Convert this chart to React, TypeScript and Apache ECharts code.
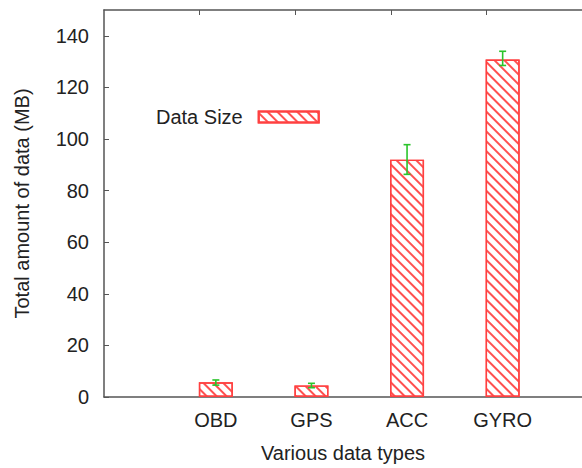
import React, { useEffect, useRef } from "react";
import * as echarts from "echarts";

const categories = ["OBD", "GPS", "ACC", "GYRO"];
const dataSize = [5.7, 4.5, 92.0, 130.8];
const errLow = [4.6, 3.6, 86.3, 128.5];
const errHigh = [6.6, 5.3, 97.8, 134.0];
const yTicks = [0, 20, 40, 60, 80, 100, 120, 140];

const barOffset = 0.17;
const FONT = "'Liberation Sans', Arial, sans-serif";
const RED = "#ff4040";
const GREEN = "#2bc42b";
const AXIS = "#555";

export default function App() {
  const ref = useRef<HTMLDivElement>(null);
  useEffect(() => {
    document.body.style.margin = "0";
    const chart = echarts.init(ref.current!, null, { renderer: "svg" });
    const tickPos = categories.map((_, i) => i);
    const labelPos = categories.map((_, i) => i + barOffset);
    const axisCommon = {
      type: "value" as const,
      min: -1,
      max: 4,
      interval: 1,
      splitLine: { show: false },
    };
    chart.setOption({
      animation: false,
      backgroundColor: "#fff",
      textStyle: { fontFamily: FONT },
      grid: { left: 104, top: 10, width: 485, height: 390, containLabel: false },
      legend: {
        show: true,
        data: [{ name: "Data Size", icon: "rect" }],
        left: 151,
        top: 102,
        align: "right",
        itemWidth: 60,
        itemHeight: 11,
        textStyle: { fontSize: 20, color: "#222", fontFamily: FONT, padding: [0, 11, 0, 0] },
      },
      xAxis: [
        {
          ...axisCommon,
          position: "bottom",
          name: "Various data types",
          nameLocation: "middle",
          nameGap: 46,
          nameTextStyle: { fontSize: 20, color: "#222", fontFamily: FONT },
          axisLine: { show: true, onZero: false, lineStyle: { color: AXIS, width: 1.5 } },
          axisTick: { show: true, inside: true, length: 5, customValues: tickPos, lineStyle: { color: AXIS } },
          axisLabel: {
            show: true,
            customValues: labelPos,
            margin: 13,
            fontSize: 20,
            color: "#222",
            fontFamily: FONT,
            formatter: (v: number) => categories[Math.round(v - barOffset)] ?? "",
          },
        },
        {
          ...axisCommon,
          position: "top",
          axisLine: { show: true, onZero: false, lineStyle: { color: AXIS, width: 1.5 } },
          axisTick: { show: true, inside: true, length: 5, customValues: tickPos, lineStyle: { color: AXIS } },
          axisLabel: { show: false },
        },
      ],
      yAxis: {
        type: "value",
        min: 0,
        max: 150,
        position: "left",
        name: "Total amount of data (MB)",
        nameLocation: "middle",
        nameGap: 72,
        nameRotate: 90,
        nameTextStyle: { fontSize: 20, color: "#222", fontFamily: FONT },
        splitLine: { show: false },
        axisLine: { show: true, onZero: false, lineStyle: { color: AXIS, width: 1.5 } },
        axisTick: { show: true, inside: true, length: 5, customValues: yTicks, lineStyle: { color: AXIS } },
        axisLabel: {
          show: true,
          customValues: yTicks,
          margin: 15,
          fontSize: 20,
          color: "#222",
          fontFamily: FONT,
        },
      },
      series: [
        {
          name: "Data Size",
          type: "bar",
          xAxisIndex: 0,
          barWidth: 34,
          z: 2,
          data: dataSize.map((v, i) => [i + barOffset, v]),
          itemStyle: {
            color: "#fff",
            borderColor: RED,
            borderWidth: 1.4,
            decal: {
              symbol: "rect",
              symbolSize: 1,
              dashArrayX: [1, 0],
              dashArrayY: [1.3, 4.3],
              rotation: Math.PI / 4,
              color: "#ff5050",
            },
          },
        },
        {
          name: "err",
          type: "custom",
          xAxisIndex: 0,
          z: 10,
          data: dataSize.map((_, i) => [i + barOffset, errLow[i], errHigh[i]]),
          encode: { x: 0, y: [1, 2] },
          renderItem: (params: any, api: any) => {
            const x = api.value(0);
            const lo = api.coord([x, api.value(1)]);
            const hi = api.coord([x, api.value(2)]);
            const hw = 3.5;
            const style = { stroke: GREEN, lineWidth: 1.6 };
            return {
              type: "group",
              children: [
                { type: "line", z2: 10, shape: { x1: lo[0], y1: lo[1], x2: hi[0], y2: hi[1] }, style },
                { type: "line", z2: 10, shape: { x1: lo[0] - hw, y1: lo[1], x2: lo[0] + hw, y2: lo[1] }, style },
                { type: "line", z2: 10, shape: { x1: hi[0] - hw, y1: hi[1], x2: hi[0] + hw, y2: hi[1] }, style },
              ],
            };
          },
        },
      ],
    });
    return () => chart.dispose();
  }, []);
  return <div ref={ref} style={{ width: 582, height: 468 }} />;
}
